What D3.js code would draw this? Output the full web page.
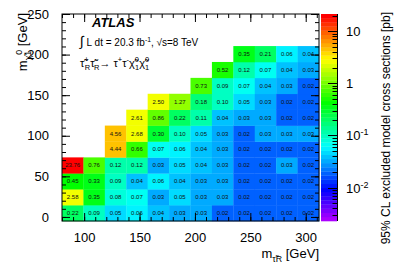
<!DOCTYPE html>
<html>
<head>
<meta charset="utf-8">
<script src="https://cdn.jsdelivr.net/npm/d3@7"></script>
<style>
  body { margin: 0; background: #fff; }
  text { font-family: "Liberation Sans", Arial, Helvetica, sans-serif; }
</style>
</head>
<body>
<div id="chart"></div>
<script>
// grid points (bin centres), left->right and bottom->top
const stauMasses = [90, 110, 130, 150, 170, 190, 210, 230, 250, 270, 290, 310];
const lspMasses = [0, 20, 40, 60, 80, 100, 120, 140, 160, 180, 200];

// excluded cross sections [pb], one row per neutralino mass, null = no point
const xsecRows = [
  [0.22, 0.09, 0.05, 0.06, 0.04, 0.03, 0.03, 0.02, 0.02, 0.02, 0.02, 0.02],
  [2.58, 0.35, 0.08, 0.07, 0.03, 0.05, 0.03, 0.03, 0.02, 0.02, 0.02, 0.02],
  [0.45, 0.33, 0.09, 0.04, 0.06, 0.04, 0.03, 0.03, 0.02, 0.02, 0.02, 0.02],
  [23.76, 0.76, 0.12, 0.12, 0.03, 0.05, 0.04, 0.03, 0.02, 0.02, 0.03, 0.02],
  [null, null, 4.44, 0.66, 0.07, 0.06, 0.04, 0.03, 0.02, 0.02, 0.02, 0.02],
  [null, null, 4.56, 2.68, 0.30, 0.10, 0.05, 0.03, 0.02, 0.03, 0.03, 0.03],
  [null, null, null, 2.61, 0.86, 0.22, 0.11, 0.04, 0.03, 0.03, 0.02, 0.02],
  [null, null, null, null, 2.50, 1.27, 0.18, 0.10, 0.05, 0.03, 0.02, 0.02],
  [null, null, null, null, null, null, 0.73, 0.09, 0.07, 0.04, 0.03, 0.02],
  [null, null, null, null, null, null, null, 0.52, 0.12, 0.07, 0.04, 0.03],
  [null, null, null, null, null, null, null, null, 0.35, 0.21, 0.06, 0.04]
];

const xTicks = [100, 150, 200, 250, 300];
const yTicks = [0, 50, 100, 150, 200, 250];
const zTicks = [10, 1, 0.1, 0.01];
const zTickLabels = [["10", ""], ["1", ""], ["10", "-1"], ["10", "-2"]];

const W = 395, H = 267;
const frame = {left: 62, right: 319, top: 14, bottom: 221};
const nColors = 50;

const svg = d3.select('#chart').append('svg')
  .attr('width', W)
  .attr('height', H);

const x = d3.scaleLinear().domain([80, 312]).range([frame.left, frame.right]);
const y = d3.scaleLinear().domain([-5, 250]).range([frame.bottom, frame.top]);

const xBand = d3.scaleBand().domain(stauMasses).range([frame.left, frame.right]);
const yBand = d3.scaleBand().domain(lspMasses).range([frame.bottom, y(210.5)]);

const zMin = Math.pow(10, -2.64), zMax = Math.pow(10, 1.33);
const zNorm = d3.scaleLog().domain([zMin, zMax]).range([0, 1]).clamp(true);

// ROOT style "pretty palette": purple -> blue -> cyan -> green -> yellow -> red
function paletteColor(i) {
  return d3.hsl(280 * (1 - i / (nColors - 1)), 1, 0.5).toString();
}
function color(v) {
  const i = Math.min(nColors - 1, Math.floor(zNorm(v) * nColors));
  return paletteColor(i);
}

const cells = [];
xsecRows.forEach((row, j) => {
  row.forEach((v, i) => {
    if (v !== null) cells.push({mx: stauMasses[i], my: lspMasses[j], v: v});
  });
});

svg.append('g').selectAll('rect')
  .data(cells)
  .enter().append('rect')
  .attr('x', d => xBand(d.mx))
  .attr('y', d => yBand(d.my))
  .attr('width', xBand.bandwidth() + 0.3)
  .attr('height', yBand.bandwidth() + 0.3)
  .attr('fill', d => color(d.v));

const fmt = d3.format('.2f');
svg.append('g').selectAll('text')
  .data(cells)
  .enter().append('text')
  .attr('x', d => xBand(d.mx) + xBand.bandwidth() / 2)
  .attr('y', d => yBand(d.my) + yBand.bandwidth() / 2 + 2)
  .attr('text-anchor', 'middle')
  .attr('font-size', 6)
  .attr('fill', '#111')
  .text(d => fmt(d.v));

// axes with inward ticks on all four sides
function ticksOn(axis, size) {
  return g => {
    g.call(axis.tickSize(size).tickSizeOuter(0));
    g.select('.domain').remove();
    g.selectAll('line').attr('stroke', '#000');
  };
}
const xMinor = d3.range(80, 313, 10);
const yMinor = d3.range(0, 251, 10);

svg.append('g').attr('transform', `translate(0,${frame.bottom})`)
  .call(ticksOn(d3.axisBottom(x).tickValues(xMinor).tickFormat(''), -4));
svg.append('g').attr('transform', `translate(0,${frame.bottom})`)
  .call(ticksOn(d3.axisBottom(x).tickValues(xTicks).tickFormat(d3.format('d')).tickPadding(12), -8))
  .selectAll('text').attr('font-size', 13).attr('fill', '#000');
svg.append('g').attr('transform', `translate(0,${frame.top})`)
  .call(ticksOn(d3.axisTop(x).tickValues(xMinor).tickFormat(''), -4));
svg.append('g').attr('transform', `translate(0,${frame.top})`)
  .call(ticksOn(d3.axisTop(x).tickValues(xTicks).tickFormat(''), -8));

svg.append('g').attr('transform', `translate(${frame.left},0)`)
  .call(ticksOn(d3.axisLeft(y).tickValues(yMinor).tickFormat(''), -4));
svg.append('g').attr('transform', `translate(${frame.left},0)`)
  .call(ticksOn(d3.axisLeft(y).tickValues(yTicks).tickFormat(d3.format('d')).tickPadding(13), -8))
  .selectAll('text').attr('font-size', 13).attr('fill', '#000');
svg.append('g').attr('transform', `translate(${frame.right},0)`)
  .call(ticksOn(d3.axisRight(y).tickValues(yMinor).tickFormat(''), -4));
svg.append('g').attr('transform', `translate(${frame.right},0)`)
  .call(ticksOn(d3.axisRight(y).tickValues(yTicks).tickFormat(''), -8));

svg.append('rect')
  .attr('x', frame.left).attr('y', frame.top)
  .attr('width', frame.right - frame.left)
  .attr('height', frame.bottom - frame.top)
  .attr('fill', 'none').attr('stroke', '#000').attr('stroke-width', 1);

// colour bar
const bar = {left: 321, right: 337};
const z = d3.scaleLog().domain([zMin, zMax]).range([frame.bottom, frame.top]);
const zLevels = d3.range(nColors + 1).map(i => zMin * Math.pow(zMax / zMin, i / nColors));
svg.append('g').selectAll('rect')
  .data(d3.range(nColors))
  .enter().append('rect')
  .attr('x', bar.left)
  .attr('width', bar.right - bar.left)
  .attr('y', i => z(zLevels[i + 1]))
  .attr('height', i => z(zLevels[i]) - z(zLevels[i + 1]) + 0.3)
  .attr('fill', i => paletteColor(i));

const zMinorTicks = z.ticks().filter(t => t >= zMin && t <= zMax);
svg.append('g').selectAll('line')
  .data(zMinorTicks)
  .enter().append('line')
  .attr('x1', bar.right)
  .attr('x2', d => bar.right - (zTicks.includes(d) ? 9 : 4.5))
  .attr('y1', d => Math.round(z(d)) + 0.5)
  .attr('y2', d => Math.round(z(d)) + 0.5)
  .attr('stroke', '#000');
svg.append('line')
  .attr('x1', bar.right + 0.5).attr('x2', bar.right + 0.5)
  .attr('y1', frame.top).attr('y2', frame.bottom)
  .attr('stroke', '#000');

const zLab = svg.append('g').selectAll('text')
  .data(zTicks)
  .enter().append('text')
  .attr('x', bar.right + 9)
  .attr('y', d => z(d) + 5)
  .attr('font-size', 13);
zLab.append('tspan').text((d, i) => zTickLabels[i][0]);
zLab.append('tspan').attr('dy', -5).attr('font-size', 9).text((d, i) => zTickLabels[i][1]);

// rich text helper: parts are [string, 'sup' | 'sub' | null, dx]
function rich(t, parts, size) {
  let cur = 0;
  parts.forEach(([s, k, dx]) => {
    const off = k === 'sup' ? -0.42 * size : k === 'sub' ? 0.3 * size : 0;
    const ts = t.append('tspan')
      .attr('dy', off - cur)
      .attr('font-size', k ? size * 0.68 : size)
      .text(s);
    if (dx) ts.attr('dx', dx);
    cur = off;
  });
  return t;
}

// axis titles
rich(svg.append('text')
  .attr('text-anchor', 'end')
  .attr('transform', `translate(${frame.right},258)`), [
  ['m', null], ['τ\u0303', 'sub'], ['R', 'sub'], [' [GeV]', null]
], 13);

rich(svg.append('text')
  .attr('text-anchor', 'end')
  .attr('transform', 'translate(27,13) rotate(-90)'), [
  ['m', null], ['χ\u0303', 'sub'], ['1', 'sub'], ['0', 'sup', -4], [' [GeV]', null]
], 13);

svg.append('text')
  .attr('text-anchor', 'end')
  .attr('transform', 'translate(390,12) rotate(-90)')
  .attr('font-size', 12)
  .text('95% CL excluded model cross sections [pb]');

// labels
svg.append('text')
  .attr('x', 92).attr('y', 27)
  .attr('font-size', 13)
  .attr('font-weight', 'bold')
  .attr('font-style', 'italic')
  .text('ATLAS');

const lumi = svg.append('text').attr('x', 80).attr('y', 46);
lumi.append('tspan').attr('font-size', 14).text('∫');
rich(lumi, [[' L dt = 20.3 fb', null], ['-1', 'sup'], [',  \u221As=8 TeV', null]], 10);

rich(svg.append('text').attr('x', 80).attr('y', 67), [
  ['τ\u0303', null], ['+', 'sup'], ['R', 'sub', -4], ['τ\u0303', null], ['-', 'sup'], ['R', 'sub', -3],
  ['\u2192 τ', null], ['+', 'sup'], ['τ', null], ['-', 'sup'],
  ['χ\u0303', null], ['0', 'sup'], ['1', 'sub', -4], ['χ\u0303', null], ['0', 'sup'], ['1', 'sub', -4]
], 11);
</script>
</body>
</html>
